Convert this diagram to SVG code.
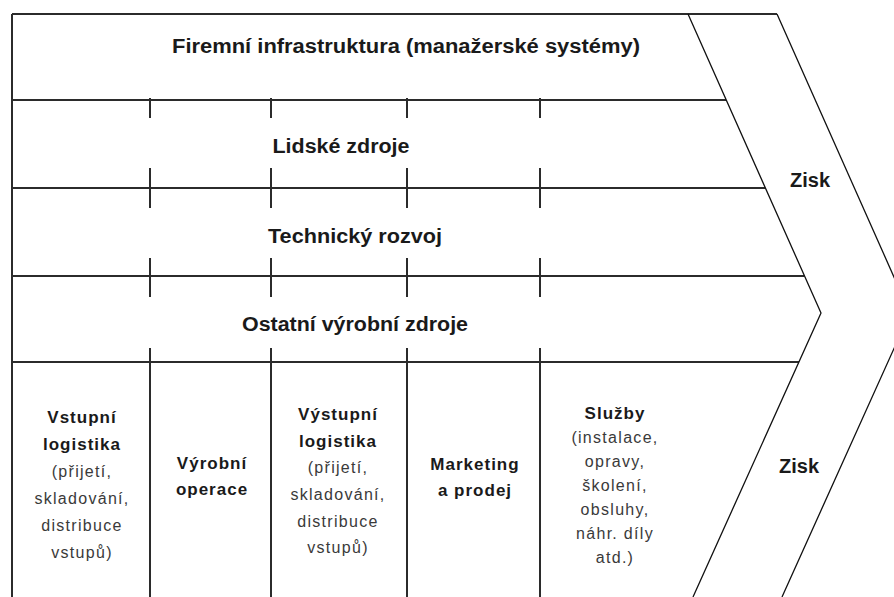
<svg xmlns="http://www.w3.org/2000/svg" width="894" height="597" viewBox="0 0 894 597">
  <style>
    .frame { stroke: #2b2b2b; stroke-width: 2; fill: none; }
    .tick { stroke: #2b2b2b; stroke-width: 2; fill: none; }
    .chev { stroke: #111; stroke-width: 1.3; fill: none; }
    .head { font-family: "Liberation Sans", Arial, sans-serif; font-weight: bold; font-size: 20px; fill: #1a1a1a; text-anchor: middle; }
    .cell { font-family: "Liberation Sans", Arial, sans-serif; font-weight: bold; font-size: 17px; fill: #1a1a1a; text-anchor: middle; letter-spacing: 1px; }
    .note { font-family: "Liberation Sans", Arial, sans-serif; font-size: 16px; fill: #3a3a3a; text-anchor: middle; letter-spacing: 1.3px; }
  </style>
  <rect width="894" height="597" fill="#ffffff"/>

  <!-- connectors: frame lines, column ticks and chevron outline -->
  <g id="connectors">
    <!-- top border and left edge -->
    <path class="frame" d="M12 14 H777 M12 14 V597"/>
    <!-- horizontal support rows -->
    <path class="frame" d="M12 100 H726 M12 188 H765 M12 276 H804 M12 362 H799"/>
    <!-- column ticks on each support row -->
    <path class="tick" d="M150 98 V118 M271 98 V118 M407 98 V118 M540 98 V118"/>
    <path class="tick" d="M150 168 V208 M271 168 V208 M407 168 V208 M540 168 V208"/>
    <path class="tick" d="M150 258 V297 M271 258 V297 M407 258 V297 M540 258 V297"/>
    <!-- primary activity columns -->
    <path class="tick" d="M150 348 V597 M271 348 V597 M407 348 V597 M540 348 V597"/>
    <!-- inner chevron -->
    <path class="chev" d="M688 14 L821 313 L693 597"/>
    <!-- outer chevron -->
    <path class="chev" d="M777 14 L910 313 L782 597"/>
  </g>

  <g id="infrastructure">
    <text class="head" x="406" y="53" textLength="468" lengthAdjust="spacingAndGlyphs">Firemní infrastruktura (manažerské systémy)</text>
  </g>
  <g id="human-resources">
    <text class="head" x="341" y="153" textLength="137" lengthAdjust="spacingAndGlyphs">Lidské zdroje</text>
  </g>
  <g id="technology">
    <text class="head" x="355" y="243" textLength="174" lengthAdjust="spacingAndGlyphs">Technický rozvoj</text>
  </g>
  <g id="procurement">
    <text class="head" x="355" y="331" textLength="226" lengthAdjust="spacingAndGlyphs">Ostatní výrobní zdroje</text>
  </g>
  <g id="margin-top">
    <text class="head" x="810" y="187" font-size="19">Zisk</text>
  </g>
  <g id="margin-bottom">
    <text class="head" x="799" y="473" font-size="19">Zisk</text>
  </g>

  <g id="inbound-logistics">
    <text class="cell" x="82" y="423">Vstupní</text>
    <text class="cell" x="82" y="450">logistika</text>
    <text class="note" x="82" y="477">(přijetí,</text>
    <text class="note" x="82" y="504">skladování,</text>
    <text class="note" x="82" y="531">distribuce</text>
    <text class="note" x="82" y="558">vstupů)</text>
  </g>
  <g id="operations">
    <text class="cell" x="212" y="469">Výrobní</text>
    <text class="cell" x="212" y="495">operace</text>
  </g>
  <g id="outbound-logistics">
    <text class="cell" x="338" y="420">Výstupní</text>
    <text class="cell" x="338" y="447">logistika</text>
    <text class="note" x="338" y="473">(přijetí,</text>
    <text class="note" x="338" y="500">skladování,</text>
    <text class="note" x="338" y="527">distribuce</text>
    <text class="note" x="338" y="553">vstupů)</text>
  </g>
  <g id="marketing">
    <text class="cell" x="475" y="470">Marketing</text>
    <text class="cell" x="475" y="496">a prodej</text>
  </g>
  <g id="service">
    <text class="cell" x="615" y="419">Služby</text>
    <text class="note" x="615" y="443">(instalace,</text>
    <text class="note" x="615" y="467">opravy,</text>
    <text class="note" x="615" y="491">školení,</text>
    <text class="note" x="615" y="515">obsluhy,</text>
    <text class="note" x="615" y="539">náhr. díly</text>
    <text class="note" x="615" y="563">atd.)</text>
  </g>
</svg>
